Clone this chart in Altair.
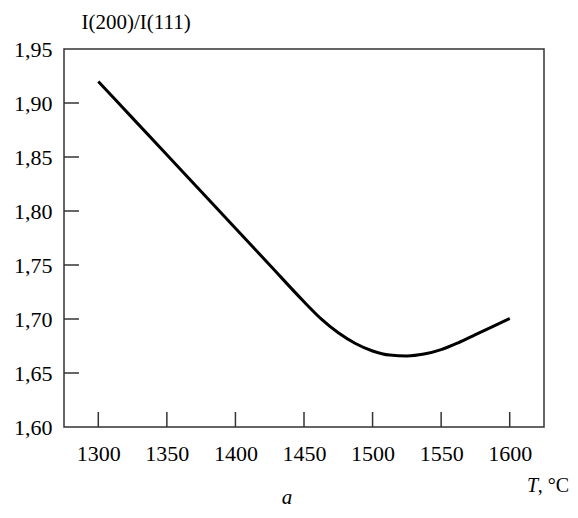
import altair as alt
import pandas as pd

# Data
temps = [1300, 1325, 1350, 1375, 1400, 1425, 1450, 1462.5, 1475, 1487.5,
         1500, 1512.5, 1525, 1537.5, 1550, 1562.5, 1575, 1587.5, 1600]
ratio = [1.920, 1.886, 1.852, 1.818, 1.784, 1.750, 1.716, 1.7001, 1.6872, 1.6773,
         1.6704, 1.6666, 1.6658, 1.6675, 1.6716, 1.6780, 1.6855, 1.6930, 1.7005]

x_ticks = [1300, 1350, 1400, 1450, 1500, 1550, 1600]
y_ticks = [1.60, 1.65, 1.70, 1.75, 1.80, 1.85, 1.90, 1.95]

W, H = 480, 378
FONT = "Liberation Serif"
FS = 22
INK = "#333333"

df = pd.DataFrame({"T": temps, "R": ratio})
xt = pd.DataFrame({"v": x_ticks})
yt = pd.DataFrame({"v": y_ticks[1:-1]})

xscale = alt.Scale(domain=[1275, 1625], nice=False, zero=False)
yscale = alt.Scale(domain=[1.60, 1.95], nice=False, zero=False)

xaxis = alt.Axis(values=x_ticks, format="d", grid=False, domain=False, ticks=False,
                 labelFont=FONT, labelFontSize=FS, labelColor="black", labelPadding=16,
                 title=None)
yaxis = alt.Axis(values=y_ticks, grid=False, domain=False, ticks=False,
                 labelExpr="replace(format(datum.value, '.2f'), '.', ',')",
                 labelFont=FONT, labelFontSize=FS, labelColor="black", labelPadding=12,
                 title="I(200)/I(111)", titleAngle=0, titleX=17, titleY=-21,
                 titleAlign="left", titleBaseline="alphabetic",
                 titleFont=FONT, titleFontSize=21, titleFontWeight="normal", titleColor="black")

line = alt.Chart(df).mark_line(color="black", strokeWidth=3, interpolate="monotone").encode(
    x=alt.X("T:Q", scale=xscale, axis=xaxis),
    y=alt.Y("R:Q", scale=yscale, axis=yaxis),
)

xtick_layer = alt.Chart(xt).mark_rule(color=INK, strokeWidth=1.5).encode(
    x=alt.X("v:Q", scale=xscale),
    y=alt.value(H), y2=alt.value(H - 15),
)
ytick_layer = alt.Chart(yt).mark_rule(color=INK, strokeWidth=1.5).encode(
    y=alt.Y("v:Q", scale=yscale),
    x=alt.value(0), x2=alt.value(15),
)

lbl = pd.DataFrame({"t": [", °C"]})
unit = alt.Chart(lbl).mark_text(font=FONT, fontSize=20, color="black", align="right",
                                baseline="alphabetic").encode(
    text="t:N", x=alt.value(505), y=alt.value(H + 65))
tl = pd.DataFrame({"t": ["T"]})
tvar = alt.Chart(tl).mark_text(font=FONT, fontSize=20, color="black", align="right",
                               baseline="alphabetic", fontStyle="italic").encode(
    text="t:N", x=alt.value(474), y=alt.value(H + 65))
al = pd.DataFrame({"t": ["a"]})
a_lbl = alt.Chart(al).mark_text(font=FONT, fontSize=21, color="black", align="center",
                                baseline="alphabetic", fontStyle="italic").encode(
    text="t:N", x=alt.value(223), y=alt.value(H + 77))

chart = alt.layer(line, xtick_layer, ytick_layer, unit, tvar, a_lbl).properties(
    width=W, height=H,
    autosize=alt.AutoSizeParams(type="none"),
    padding={"left": 56, "top": 41, "right": 26, "bottom": 83},
    background="white",
).configure_view(stroke=INK, strokeWidth=1.5)

chart.save("out.html", embed_options={"renderer": "svg", "actions": False})
